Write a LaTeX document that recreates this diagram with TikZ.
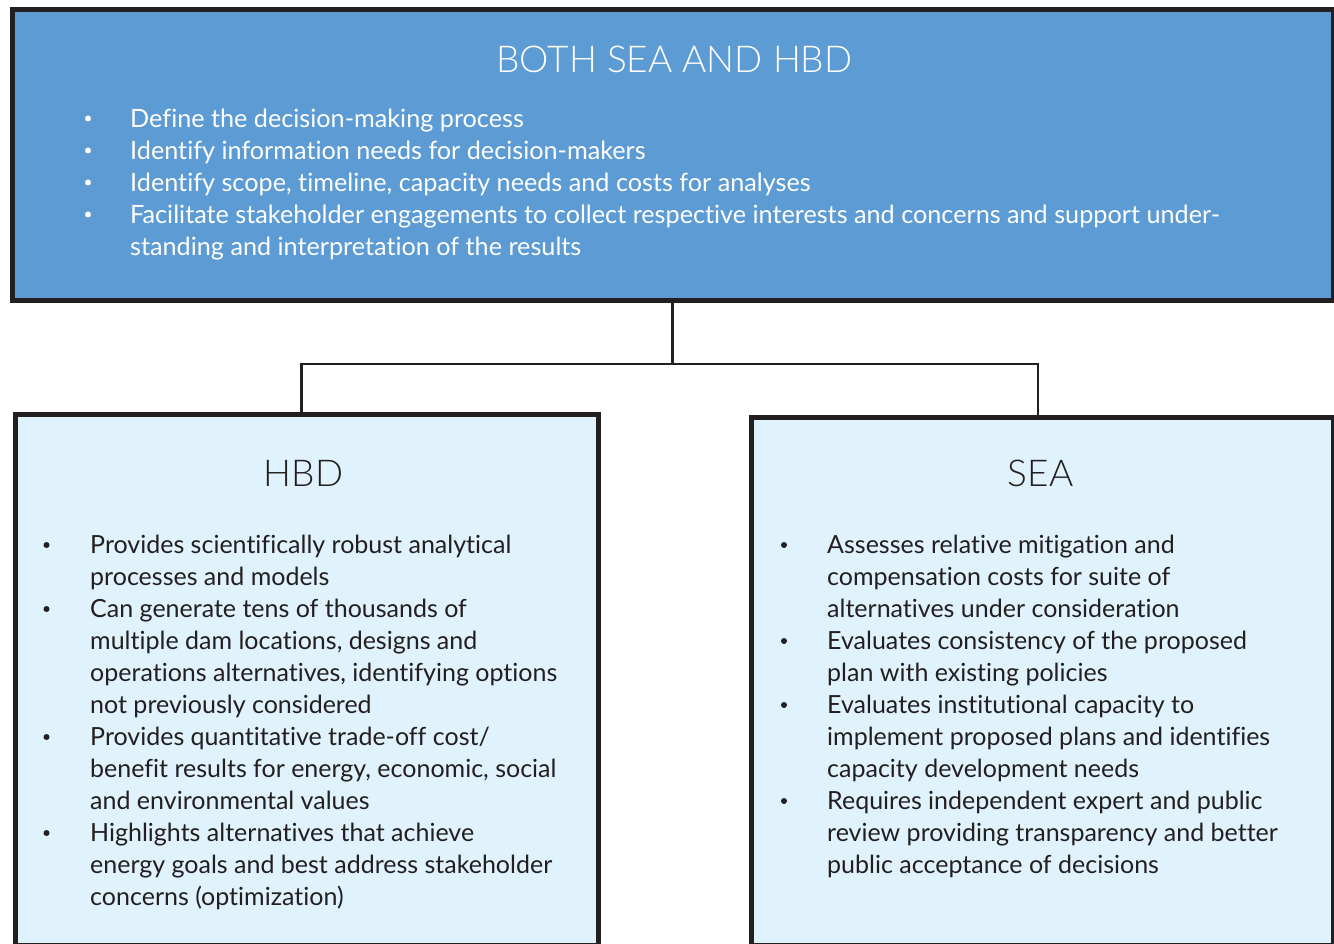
\documentclass[tikz,border=0pt]{standalone}
\usepackage{fontspec}
\setmainfont{Lato}[Ligatures=NoCommon]
\newfontfamily\lightfont{Lato}[UprightFont=* Light]
\usetikzlibrary{positioning}

\definecolor{edge}{RGB}{35,31,32}
\definecolor{topblue}{RGB}{92,155,212}
\definecolor{paleblue}{RGB}{224,242,252}

\tikzset{
  box/.style={draw=edge, line width=5pt, inner sep=0pt, anchor=north west},
  link/.style={draw=edge, line width=2.2pt},
  heading/.style={font=\lightfont\fontsize{37}{44}\selectfont, anchor=base, inner sep=0pt},
  toptext/.style={text=white, font=\fontsize{25.2}{32}\selectfont, anchor=base west, inner sep=0pt},
  lowtext/.style={text=edge, font=\fontsize{25}{32}\selectfont, anchor=base west, inner sep=0pt},
  dot/.style={circle, inner sep=0pt, minimum size=6pt}
}

\begin{document}
\begin{tikzpicture}[x=1pt,y=-1pt]
\useasboundingbox (0,0) rectangle (1334,944);

% === Boxes ===
\node[box, fill=topblue, minimum width=1321pt, minimum height=291pt] (both) at (9.5,7) {};
\node[box, fill=paleblue, minimum width=583pt, minimum height=531pt] (hbd) at (12.5,412) {};
\node[box, fill=paleblue, minimum width=582.5pt, minimum height=528pt] (sea) at (748.5,415) {};

% === Connectors ===
\coordinate (fork) at (672.5,364);
\draw[link] (both.south -| fork) -- (fork);
\draw[link] (hbd.north -| 301.5,0) |- (fork) -| (sea.north -| 1038,0);

% === Headings ===
\node[heading, text=white] (bothtitle) at (674.5,72.5) {BOTH SEA AND HBD};
\node[heading, text=edge] (hbdtitle) at (303.5,486) {HBD};
\node[heading, text=edge] (seatitle) at (1040.5,486) {SEA};

% === Top list ===
\foreach \b/\txt [count=\i] in {
  1/{Define the decision-making process},
  1/{Identify information needs for decision-makers},
  1/{Identify scope, timeline, capacity needs and costs for analyses},
  1/{Facilitate stakeholder engagements to collect respective interests and concerns and support under-},
  0/{standing and interpretation of the results}}
{
  \node[toptext] (both\i) at (130,{96+32*\i}) {\txt};
  \ifnum\b=1 \node[dot, fill=white] (bothdot\i) at (88,{86.5+32*\i}) {};\fi
}

% === HBD list ===
\foreach \b/\txt [count=\i] in {
  1/{Provides scientifically robust analytical},
  0/{processes and models},
  1/{Can generate tens of thousands of},
  0/{multiple dam locations, designs and},
  0/{operations alternatives, identifying options},
  0/{not previously considered},
  1/{Provides quantitative trade-off cost/},
  0/{benefit results for energy, economic, social},
  0/{and environmental values},
  1/{Highlights alternatives that achieve},
  0/{energy goals and best address stakeholder},
  0/{concerns (optimization)}}
{
  \node[lowtext] (hbd\i) at (90,{521+32*\i}) {\txt};
  \ifnum\b=1 \node[dot, fill=edge] (hbddot\i) at (46.5,{513+32*\i}) {};\fi
}

% === SEA list ===
\foreach \b/\txt [count=\i] in {
  1/{Assesses relative mitigation and},
  0/{compensation costs for suite of},
  0/{alternatives under consideration},
  1/{Evaluates consistency of the proposed},
  0/{plan with existing policies},
  1/{Evaluates institutional capacity to},
  0/{implement proposed plans and identifies},
  0/{capacity development needs},
  1/{Requires independent expert and public},
  0/{review providing transparency and better},
  0/{public acceptance of decisions}}
{
  \node[lowtext] (sea\i) at (827,{521+32*\i}) {\txt};
  \ifnum\b=1 \node[dot, fill=edge] (seadot\i) at (784,{513+32*\i}) {};\fi
}
\end{tikzpicture}
\end{document}
